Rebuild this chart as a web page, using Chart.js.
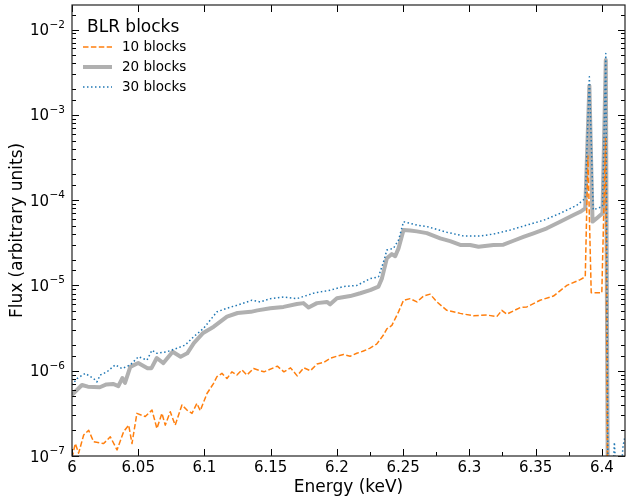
<!DOCTYPE html>
<html>
<head>
<meta charset="utf-8">
<script src="https://cdn.jsdelivr.net/npm/chart.js@4/dist/chart.umd.min.js"></script>
<style>
  html, body { margin: 0; padding: 0; background: #ffffff; }
  #wrap { width: 629px; height: 496px; }
</style>
</head>
<body>
<div id="wrap"><canvas id="spec" width="629" height="496"></canvas></div>
<script>
// Fe K line region: flux per energy bin for three BLR block resolutions
const e10 = [6.000, 6.0025, 6.005, 6.0088, 6.0126, 6.0163, 6.0239, 6.0289, 6.0340, 6.0390, 6.0428, 6.0453,
  6.0490, 6.0553, 6.0604, 6.0641, 6.0679, 6.0704, 6.0742, 6.0779, 6.0830, 6.0868, 6.0906, 6.0943, 6.0968,
  6.1019, 6.1069, 6.1094, 6.1132, 6.1170, 6.1207, 6.1245, 6.1283, 6.1320, 6.1371, 6.1421, 6.145, 6.155,
  6.160, 6.165, 6.170, 6.175, 6.180, 6.185, 6.190, 6.195, 6.200, 6.205, 6.210, 6.215, 6.220, 6.225, 6.230,
  6.235, 6.2377, 6.2415, 6.2465, 6.2503, 6.2553, 6.2604, 6.2654, 6.2704, 6.2755, 6.2830, 6.2931, 6.3031,
  6.3132, 6.3207, 6.3245, 6.3283, 6.3384, 6.3434, 6.3534, 6.3635, 6.3736, 6.3837, 6.3875, 6.3895, 6.3920,
  6.4000, 6.4028, 6.4050, 6.4175];
const f10 = [9.5e-8, 1.4e-7, 1.08e-7, 1.76e-7, 2.0e-7, 1.47e-7, 1.4e-7, 1.68e-7, 1.18e-7, 1.93e-7, 2.3e-7, 1.4e-7,
  3.16e-7, 2.9e-7, 3.46e-7, 2.1e-7, 3.16e-7, 2.3e-7, 3.3e-7, 2.3e-7, 3.96e-7, 3.46e-7, 3.16e-7, 4.14e-7, 3.4e-7,
  5.4e-7, 7.1e-7, 8.5e-7, 9.3e-7, 8.1e-7, 9.7e-7, 8.9e-7, 1.02e-6, 8.9e-7, 1.06e-6, 1.0e-6, 9.7e-7, 1.13e-6,
  9.7e-7, 1.08e-6, 8.7e-7, 1.08e-6, 1.0e-6, 1.2e-6, 1.25e-6, 1.4e-6, 1.48e-6, 1.55e-6, 1.48e-6, 1.6e-6, 1.7e-6, 1.84e-6, 2.05e-6,
  2.6e-6, 3.1e-6, 3.4e-6, 4.9e-6, 6.7e-6, 7.0e-6, 6.4e-6, 7.5e-6, 7.9e-6, 6.4e-6, 5.1e-6, 4.7e-6, 4.4e-6,
  4.5e-6, 4.3e-6, 5.1e-6, 4.6e-6, 5.5e-6, 5.6e-6, 6.7e-6, 7.5e-6, 1.0e-5, 1.17e-5, 1.26e-5, 3.3e-4, 8.2e-6,
  8.2e-6, 5.3e-4, 1e-9, 1e-9];

const e20 = [6.000, 6.0075, 6.012, 6.021, 6.026, 6.031, 6.035, 6.038, 6.040, 6.044, 6.050, 6.057, 6.060, 6.064,
  6.069, 6.076, 6.082, 6.087, 6.092, 6.099, 6.107, 6.117, 6.125, 6.135, 6.140, 6.1497, 6.1597, 6.1698, 6.1748,
  6.1786, 6.1849, 6.1925, 6.1949, 6.200, 6.210, 6.2176, 6.2251, 6.2314, 6.234, 6.2377, 6.2415, 6.244, 6.2465,
  6.2503, 6.2553, 6.2604, 6.2679, 6.278, 6.2855, 6.2931, 6.3006, 6.3069, 6.3182, 6.3257, 6.3333, 6.3408,
  6.3484, 6.3585, 6.3685, 6.3786, 6.3837, 6.3875, 6.3906, 6.3930, 6.396, 6.4005, 6.4030, 6.4050, 6.4175];
const f20 = [5.2e-7, 6.8e-7, 6.5e-7, 6.4e-7, 6.9e-7, 7.0e-7, 6.6e-7, 8.2e-7, 7.2e-7, 1.11e-6, 1.23e-6, 1.07e-6, 1.07e-6, 1.41e-6,
  1.23e-6, 1.67e-6, 1.46e-6, 1.6e-6, 2.11e-6, 2.77e-6, 3.28e-6, 4.3e-6, 4.75e-6, 4.9e-6, 5.1e-6, 5.4e-6, 5.6e-6, 6.05e-6, 6.2e-6,
  5.5e-6, 6.2e-6, 6.4e-6, 6.0e-6, 7.06e-6, 7.5e-6, 8.1e-6, 8.8e-6, 9.7e-6, 1.21e-5, 2.08e-5, 2.33e-5, 2.2e-5, 2.72e-5,
  4.46e-5, 4.4e-5, 4.3e-5, 4.1e-5, 3.56e-5, 3.3e-5, 2.98e-5, 2.98e-5, 2.84e-5, 2.98e-5, 3.0e-5, 3.34e-5, 3.7e-5,
  4.08e-5, 4.67e-5, 5.58e-5, 6.69e-5, 7.3e-5, 8.0e-5, 2.2e-3, 5.6e-5, 6.1e-5, 7.0e-5, 4.4e-3, 1e-9, 1e-9];

const e30 = [6.000, 6.0038, 6.010, 6.0163, 6.0188, 6.0213, 6.0264, 6.0326, 6.0377, 6.0440, 6.0502, 6.0566, 6.0604,
  6.0642, 6.0717, 6.0792, 6.0855, 6.0918, 6.0993, 6.1094, 6.1169, 6.1245, 6.1358, 6.1421, 6.1497, 6.1597, 6.1698,
  6.1823, 6.1949, 6.2050, 6.2151, 6.2251, 6.2314, 6.2352, 6.2377, 6.2427, 6.2465, 6.2503, 6.2604, 6.2679, 6.2830,
  6.2956, 6.3082, 6.3182, 6.3308, 6.3434, 6.3560, 6.3685, 6.3811, 6.3875, 6.3906, 6.3935, 6.3965, 6.4005, 6.4030,
  6.4052, 6.4080, 6.4095, 6.4110, 6.4140, 6.4160, 6.4175];
const f30 = [6.8e-7, 8.1e-7, 9.3e-7, 8.1e-7, 7.4e-7, 8.9e-7, 9.7e-7, 1.17e-6, 1.06e-6, 1.17e-6, 1.46e-6, 1.33e-6, 1.74e-6,
  1.6e-6, 1.67e-6, 1.83e-6, 2.0e-6, 2.5e-6, 3.13e-6, 4.9e-6, 5.4e-6, 5.85e-6, 6.7e-6, 6.4e-6, 7.0e-6, 7.3e-6, 7.0e-6,
  8.1e-6, 8.8e-6, 9.7e-6, 1.0e-5, 1.2e-5, 1.26e-5, 1.89e-5, 2.6e-5, 2.72e-5, 3.4e-5, 5.58e-5, 5.1e-5, 4.9e-5, 4.2e-5,
  3.8e-5, 3.8e-5, 4.0e-5, 4.46e-5, 5.1e-5, 5.8e-5, 7.0e-5, 8.7e-5, 1.05e-4, 2.8e-3, 7.7e-5, 8.0e-5, 8.4e-5, 5.25e-3,
  1e-9, 5e-8, 1.45e-7, 5e-8, 5e-8, 1.3e-7, 1.7e-7];

const seriesLabels = ['10 blocks', '20 blocks', '30 blocks'];
const legendTitle = 'BLR blocks';
const xTitle = 'Energy (keV)';
const yTitle = 'Flux (arbitrary units)';
const xTickValues = [6.0, 6.05, 6.1, 6.15, 6.2, 6.25, 6.3, 6.35, 6.4];
const xMinorValues = [6.225, 6.275, 6.325, 6.375];

const FONT = "'DejaVu Sans', sans-serif";

function toPoints(xs, ys) { return xs.map((x, i) => ({ x: x, y: ys[i] })); }
function isDecade(v) { const p = Math.log10(v); return Math.abs(p - Math.round(p)) < 1e-6; }

// Inward ticks on all four sides, the axes frame and the 10^n labels of the log axis
const framePlugin = {
  id: 'frame',
  afterDatasetsDraw(chart) {
    const { ctx, chartArea: a, scales } = chart;
    const xs = scales.x, ys = scales.y;
    ctx.save();
    ctx.strokeStyle = '#000000';
    ctx.lineWidth = 1;
    ctx.beginPath();
    xTickValues.forEach(v => {
      const px = Math.round(xs.getPixelForValue(v)) + 0.5;
      ctx.moveTo(px, a.bottom); ctx.lineTo(px, a.bottom - 7);
      ctx.moveTo(px, a.top); ctx.lineTo(px, a.top + 7);
    });
    xMinorValues.forEach(v => {
      const px = Math.round(xs.getPixelForValue(v)) + 0.5;
      ctx.moveTo(px, a.bottom); ctx.lineTo(px, a.bottom - 4);
    });
    ys.ticks.forEach(t => {
      const v = t.value;
      if (v < ys.min || v > ys.max * 0.999) return;
      const py = Math.round(ys.getPixelForValue(v)) + 0.5;
      const len = isDecade(v) ? 7 : 4;
      ctx.moveTo(a.left, py); ctx.lineTo(a.left + len, py);
      ctx.moveTo(a.right, py); ctx.lineTo(a.right - len, py);
    });
    ctx.stroke();
    ctx.lineWidth = 1.2;
    ctx.strokeStyle = '#222222';
    ctx.strokeRect(a.left, a.top, a.right - a.left, a.bottom - a.top);

    // decade labels: "10" with a raised exponent
    ctx.fillStyle = '#000000';
    ctx.textBaseline = 'alphabetic';
    ys.ticks.forEach(t => {
      const v = t.value;
      if (!isDecade(v) || v < ys.min || v > ys.max) return;
      const py = ys.getPixelForValue(v);
      const exp = '\u2212' + String(Math.abs(Math.round(Math.log10(v))));
      ctx.font = '10.5px ' + FONT;
      const wExp = ctx.measureText(exp).width;
      const right = a.left - 7;
      ctx.textAlign = 'left';
      ctx.fillText(exp, right - wExp, py - 2);
      ctx.font = '15px ' + FONT;
      ctx.textAlign = 'right';
      ctx.fillText('10', right - wExp - 0.5, py + 5.5);
    });
    ctx.restore();
  }
};

// Legend box in the upper left corner with a title line
const legendPlugin = {
  id: 'blrLegend',
  afterDraw(chart) {
    const ctx = chart.ctx;
    const a = chart.chartArea;
    const x0 = a.left + 11, y0 = a.top + 27;
    ctx.save();
    ctx.fillStyle = '#000000';
    ctx.textAlign = 'left';
    ctx.textBaseline = 'alphabetic';
    ctx.font = '17px ' + FONT;
    ctx.fillText(legendTitle, x0 + 4, y0);
    ctx.font = '13.5px ' + FONT;
    ctx.textBaseline = 'middle';
    chart.data.datasets.forEach((ds, i) => {
      const yy = y0 + 15 + i * 20;
      ctx.save();
      ctx.strokeStyle = ds.borderColor;
      ctx.lineWidth = ds.borderWidth;
      ctx.setLineDash(ds.borderDash || []);
      ctx.beginPath();
      ctx.moveTo(x0, yy); ctx.lineTo(x0 + 29, yy);
      ctx.stroke();
      ctx.restore();
      ctx.fillText(ds.label, x0 + 39, yy);
    });
    ctx.restore();
  }
};

new Chart(document.getElementById('spec'), {
  type: 'line',
  data: {
    datasets: [
      { label: seriesLabels[0], data: toPoints(e10, f10), borderColor: '#ff7f0e', borderWidth: 1.5,
        borderDash: [5.5, 2.4], pointRadius: 0, tension: 0, order: 1, clip: 0, borderJoinStyle: 'round' },
      { label: seriesLabels[1], data: toPoints(e20, f20), borderColor: '#b0b0b0', borderWidth: 4,
        pointRadius: 0, tension: 0, order: 2, clip: 0, borderJoinStyle: 'round' },
      { label: seriesLabels[2], data: toPoints(e30, f30), borderColor: '#1f77b4', borderWidth: 1.5,
        borderDash: [1.5, 2.5], pointRadius: 0, tension: 0, order: 0, clip: 0, borderJoinStyle: 'round' }
    ]
  },
  options: {
    responsive: false,
    animation: false,
    devicePixelRatio: 1,
    layout: { padding: { top: 5, right: 4, left: 0, bottom: 0 } },
    plugins: { legend: { display: false }, tooltip: { enabled: false } },
    scales: {
      x: {
        type: 'linear', min: 6.0, max: 6.4175,
        afterBuildTicks: (s) => { s.ticks = xTickValues.map(v => ({ value: v })); },
        afterFit: (s) => { s.height = 40; s.paddingLeft = 0; s.paddingRight = 0; },
        ticks: {
          autoSkip: false, maxRotation: 0, padding: 3, color: '#000000',
          font: { family: FONT, size: 15 },
          callback: (v) => String(Math.round(v * 1000) / 1000)
        },
        grid: { display: true, drawOnChartArea: false, drawTicks: false },
        border: { display: false },
        title: { display: true, text: xTitle, color: '#000000', font: { family: FONT, size: 17, lineHeight: 1.0 },
          padding: { top: 0, bottom: 0 } }
      },
      y: {
        type: 'logarithmic', min: 1e-7, max: 1.94e-2,
        afterFit: (s) => { s.width = 72; s.paddingTop = 0; s.paddingBottom = 0; },
        ticks: { display: false },
        grid: { display: true, drawOnChartArea: false, drawTicks: false },
        border: { display: false },
        title: { display: true, text: yTitle, color: '#000000', font: { family: FONT, size: 17 },
          padding: { top: 7, bottom: 0 } }
      }
    }
  },
  plugins: [framePlugin, legendPlugin]
});
</script>
</body>
</html>
